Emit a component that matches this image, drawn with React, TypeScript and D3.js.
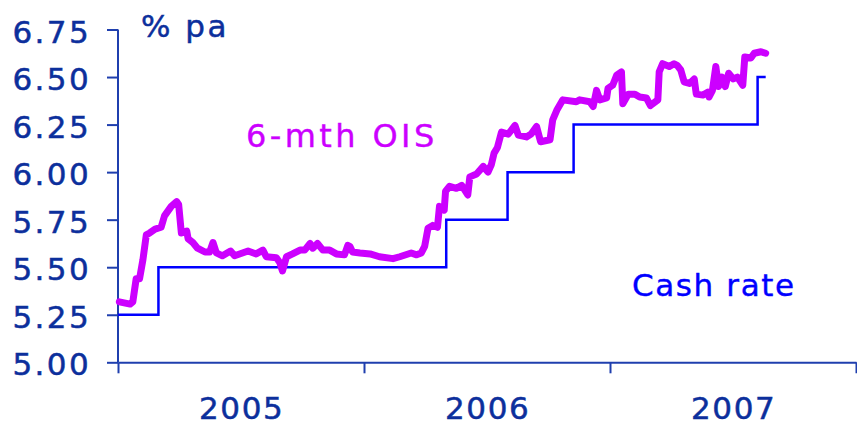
import React, { useEffect, useRef } from 'react';
import * as d3 from 'd3';

// 6-month OIS, daily-ish readings (date, % pa)
const oisDates = [
  '2005-01-03', '2005-01-19', '2005-01-23', '2005-01-28', '2005-02-02', '2005-02-07', '2005-02-12',
  '2005-02-17', '2005-02-25', '2005-03-06', '2005-03-11', '2005-03-21', '2005-03-29', '2005-04-01',
  '2005-04-05', '2005-04-13', '2005-04-15', '2005-04-22', '2005-04-29', '2005-05-10', '2005-05-17',
  '2005-05-22', '2005-05-27', '2005-06-05', '2005-06-17', '2005-06-23', '2005-07-13', '2005-07-25',
  '2005-08-04', '2005-08-09', '2005-08-24', '2005-08-29', '2005-09-02', '2005-09-08', '2005-09-17',
  '2005-09-28', '2005-10-05', '2005-10-13', '2005-10-17', '2005-10-24', '2005-11-01', '2005-11-11',
  '2005-11-21', '2005-12-03', '2005-12-08', '2005-12-11', '2005-12-15', '2005-12-26',
  '2006-01-10', '2006-01-24', '2006-02-13', '2006-02-23', '2006-03-12', '2006-03-20', '2006-03-27',
  '2006-04-01', '2006-04-06', '2006-04-13', '2006-04-20', '2006-04-23', '2006-04-30', '2006-05-02',
  '2006-05-08', '2006-05-18', '2006-05-26', '2006-06-04', '2006-06-07', '2006-06-17', '2006-06-27',
  '2006-07-04', '2006-07-09', '2006-07-13', '2006-07-18', '2006-07-24', '2006-08-03', '2006-08-13',
  '2006-08-18', '2006-08-30', '2006-09-06', '2006-09-14', '2006-09-20', '2006-10-04', '2006-10-08',
  '2006-10-14', '2006-10-23', '2006-11-12', '2006-11-17', '2006-12-02', '2006-12-07', '2006-12-12',
  '2006-12-17', '2006-12-27', '2006-12-29',
  '2007-01-05', '2007-01-11', '2007-01-18', '2007-01-20', '2007-01-28', '2007-02-07', '2007-02-14',
  '2007-02-24', '2007-03-02', '2007-03-13', '2007-03-15', '2007-03-20', '2007-03-30', '2007-04-06',
  '2007-04-11', '2007-04-16', '2007-04-21', '2007-04-29', '2007-05-06', '2007-05-09', '2007-05-19',
  '2007-05-26', '2007-05-28', '2007-06-02', '2007-06-07', '2007-06-11', '2007-06-16', '2007-06-21',
  '2007-06-26', '2007-07-03', '2007-07-09', '2007-07-17', '2007-07-20', '2007-07-29', '2007-08-03',
  '2007-08-13', '2007-08-20',
];
const oisValues = [
  5.318, 5.306, 5.318, 5.44, 5.44, 5.54, 5.67,
  5.68, 5.70, 5.71, 5.77, 5.82, 5.845, 5.83,
  5.68, 5.69, 5.65, 5.63, 5.60, 5.58, 5.58,
  5.63, 5.575, 5.56, 5.585, 5.56, 5.585, 5.57,
  5.59, 5.555, 5.55, 5.525, 5.48, 5.555, 5.57,
  5.59, 5.59, 5.625, 5.60, 5.625, 5.59, 5.59,
  5.57, 5.565, 5.615, 5.61, 5.58, 5.575,
  5.57, 5.555, 5.545, 5.555, 5.575, 5.565, 5.575,
  5.61, 5.705, 5.72, 5.71, 5.82, 5.80, 5.90,
  5.925, 5.915, 5.93, 5.88, 5.975, 5.99, 6.03,
  6.00, 6.04, 6.10, 6.13, 6.21, 6.20, 6.245,
  6.195, 6.185, 6.20, 6.24, 6.16, 6.17, 6.275,
  6.325, 6.38, 6.37, 6.38, 6.37, 6.345, 6.43,
  6.38, 6.39, 6.44,
  6.457, 6.51, 6.527, 6.36, 6.41, 6.41, 6.395,
  6.39, 6.35, 6.38, 6.527, 6.57, 6.555, 6.57,
  6.56, 6.537, 6.475, 6.466, 6.49, 6.41, 6.405,
  6.42, 6.395, 6.43, 6.555, 6.45, 6.50, 6.45,
  6.52, 6.49, 6.50, 6.457, 6.606, 6.60, 6.625,
  6.633, 6.625,
];

// Cash rate target, step changes (date, % pa)
const cashDates = ['2005-01-01', '2005-03-02', '2006-05-03', '2006-08-02', '2006-11-08', '2007-08-08', '2007-08-20'];
const cashValues = [5.25, 5.5, 5.75, 6.0, 6.25, 6.5, 6.5];

const yTicks = [5.0, 5.25, 5.5, 5.75, 6.0, 6.25, 6.5, 6.75];
const yearTicks = ['2005-01-01', '2006-01-01', '2007-01-01', '2008-01-01'];
const yearLabels = ['2005', '2006', '2007'];

const parse = d3.timeParse('%Y-%m-%d');

const App: React.FC = () => {
  const svgRef = useRef<SVGSVGElement | null>(null);

  useEffect(() => {
    if (!svgRef.current) return;
    const width = 857;
    const height = 427;
    const svg = d3.select(svgRef.current);
    svg.selectAll('*').remove();
    svg.attr('width', width).attr('height', height);

    const axisColor = '#1f3fae';
    const textColor = '#0c2f9c';
    const font = '"DejaVu Sans", Verdana, sans-serif';

    const x = d3
      .scaleTime()
      .domain([parse('2005-01-01')!, parse('2008-01-01')!])
      .range([118, 856]);
    const y = d3.scaleLinear().domain([5.0, 6.75]).range([362.3, 29.5]);

    // y axis
    const yAxis = svg
      .append('g')
      .attr('transform', `translate(${x.range()[0]},0)`)
      .call(
        d3
          .axisLeft(y)
          .tickValues(yTicks)
          .tickSize(11)
          .tickSizeOuter(0)
          .tickFormat(() => '')
      );
    yAxis.select('.domain').remove();
    yAxis.selectAll('line').attr('stroke', axisColor).attr('stroke-width', 2);

    // x axis
    const xAxis = svg
      .append('g')
      .attr('transform', `translate(0,${y.range()[0]})`)
      .call(
        d3
          .axisBottom(x)
          .tickValues(yearTicks.map((d) => parse(d)!))
          .tickSize(11)
          .tickSizeOuter(0)
          .tickFormat(() => '')
      );
    xAxis.select('.domain').attr('stroke', axisColor).attr('stroke-width', 2);
    xAxis.selectAll('line').attr('stroke', axisColor).attr('stroke-width', 2);

    // vertical axis line
    svg
      .append('line')
      .attr('x1', x.range()[0])
      .attr('x2', x.range()[0])
      .attr('y1', y.range()[1])
      .attr('y2', y.range()[0])
      .attr('stroke', axisColor)
      .attr('stroke-width', 2);

    // y tick labels
    svg
      .selectAll('text.ytick')
      .data(yTicks)
      .enter()
      .append('text')
      .attr('class', 'ytick')
      .attr('x', 91)
      .attr('y', (d) => y(d) + 13)
      .attr('text-anchor', 'end')
      .style('font-family', font)
      .style('font-size', '31px')
      .style('letter-spacing', '2.4px')
      .attr('fill', textColor)
      .attr('stroke', textColor)
      .attr('stroke-width', 0.5)
      .text((d) => d.toFixed(2));

    // year labels, centred between ticks
    svg
      .selectAll('text.year')
      .data(yearLabels)
      .enter()
      .append('text')
      .attr('class', 'year')
      .attr('x', (d) => x(parse(`${d}-07-02`)!) + 1)
      .attr('y', 419)
      .attr('text-anchor', 'middle')
      .style('font-family', font)
      .style('font-size', '31px')
      .style('letter-spacing', '1.6px')
      .attr('fill', textColor)
      .attr('stroke', textColor)
      .attr('stroke-width', 0.5)
      .text((d) => d);

    svg
      .append('text')
      .attr('x', 141)
      .attr('y', 37)
      .style('font-family', font)
      .style('font-size', '31px')
      .style('letter-spacing', '2.5px')
      .attr('fill', textColor)
      .attr('stroke', textColor)
      .attr('stroke-width', 0.5)
      .text('% pa');

    // cash rate step line
    const cash = cashDates.map((d, i) => ({ date: parse(d)!, value: cashValues[i] }));
    const cashLine = d3
      .line<{ date: Date; value: number }>()
      .x((d) => x(d.date))
      .y((d) => y(d.value))
      .curve(d3.curveStepAfter);
    svg
      .append('path')
      .datum(cash)
      .attr('d', cashLine)
      .attr('fill', 'none')
      .attr('stroke', '#0000ff')
      .attr('stroke-width', 2.5);

    // OIS line
    const ois = oisDates.map((d, i) => ({ date: parse(d)!, value: oisValues[i] }));
    const oisLine = d3
      .line<{ date: Date; value: number }>()
      .x((d) => x(d.date))
      .y((d) => y(d.value));
    svg
      .append('path')
      .datum(ois)
      .attr('d', oisLine)
      .attr('fill', 'none')
      .attr('stroke', '#cc00ff')
      .attr('stroke-width', 7)
      .attr('stroke-linejoin', 'round')
      .attr('stroke-linecap', 'round');

    // series labels
    svg
      .append('text')
      .attr('x', 246)
      .attr('y', 147)
      .style('font-family', font)
      .style('font-size', '32px')
      .style('letter-spacing', '3.4px')
      .attr('fill', '#cc00ff')
      .attr('stroke', '#cc00ff')
      .attr('stroke-width', 0.4)
      .text('6-mth OIS');

    svg
      .append('text')
      .attr('x', 632)
      .attr('y', 296)
      .style('font-family', font)
      .style('font-size', '31px')
      .style('letter-spacing', '1.6px')
      .attr('fill', '#0000ff')
      .attr('stroke', '#0000ff')
      .attr('stroke-width', 0.4)
      .text('Cash rate');
  }, []);

  return (
    <div style={{ position: 'absolute', left: 0, top: 0 }}>
      <svg ref={svgRef} style={{ display: 'block' }}></svg>
    </div>
  );
};

export default App;
